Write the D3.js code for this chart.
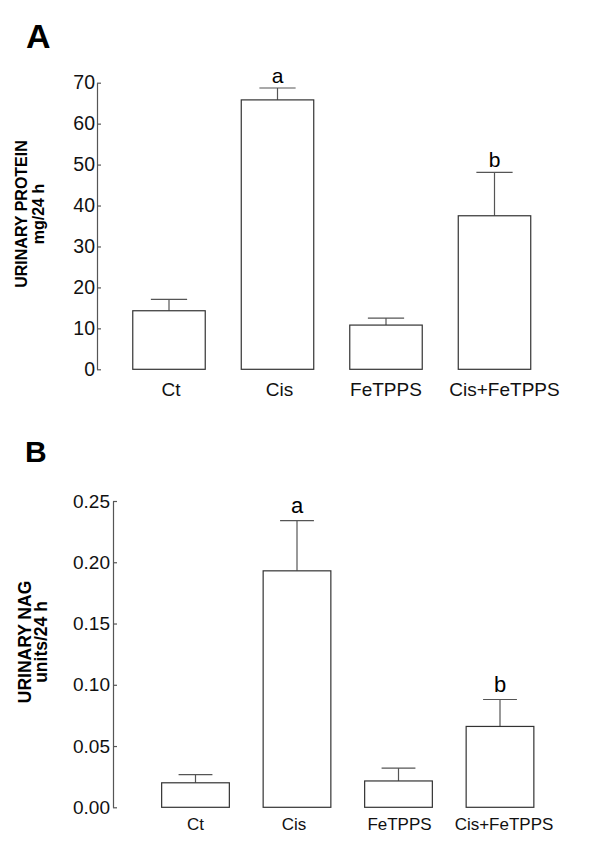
<!DOCTYPE html>
<html>
<head>
<meta charset="utf-8">
<script src="https://cdn.jsdelivr.net/npm/d3@7"></script>
<style>
  html, body { margin: 0; padding: 0; background: #fff; }
  svg { display: block; font-family: "Liberation Sans", Arial, Helvetica, sans-serif; }
</style>
</head>
<body>
<svg id="chart" width="600" height="850"></svg>
<script>
// ---- data ----
const categories = ["Ct", "Cis", "FeTPPS", "Cis+FeTPPS"];
const proteinMean = [14.3, 65.8, 10.8, 37.5];
const proteinSem  = [2.8, 2.9, 1.7, 10.6];
const proteinSig  = ["", "a", "", "b"];
const proteinTicks = [0, 10, 20, 30, 40, 50, 60, 70];

const nagMean = [0.020, 0.193, 0.0215, 0.066];
const nagSem  = [0.0066, 0.041, 0.0105, 0.022];
const nagSig  = ["", "a", "", "b"];
const nagTicks = [0, 0.05, 0.10, 0.15, 0.20, 0.25];

const svg = d3.select("#chart");

function panel(cfg) {
  const g = svg.append("g");
  const x = d3.scaleBand().domain(categories).range(cfg.xRange)
    .paddingInner(cfg.padIn).paddingOuter(cfg.padIn / 2);
  const y = d3.scaleLinear().domain(cfg.yDomain).range(cfg.yRange);
  const rows = categories.map((c, i) => ({ c, m: cfg.mean[i], s: cfg.sem[i], sig: cfg.sig[i] }));

  // panel letter
  g.append("text").attr("x", cfg.letterX).attr("y", cfg.letterY)
    .attr("font-size", cfg.letterSize).attr("font-weight", "bold").attr("fill", "#000")
    .text(cfg.letter);

  // y axis
  const ax = g.append("g").attr("transform", `translate(${cfg.axisX},0)`)
    .call(d3.axisLeft(y).tickValues(cfg.ticks).tickFormat(cfg.fmt)
      .tickSizeInner(-4).tickSizeOuter(0).tickPadding(cfg.tickPad));
  ax.select(".domain").attr("stroke", "#555").attr("stroke-width", 1.2);
  ax.selectAll(".tick line").attr("stroke", "#555").attr("stroke-width", 1.2);
  ax.selectAll(".tick text").attr("font-size", cfg.tickSize).attr("fill", "#111")
    .attr("font-family", "'Liberation Sans', Arial, sans-serif");

  // y title
  const tg = g.append("g");
  tg.append("text").attr("transform", `translate(${cfg.t1x},${cfg.tcy}) rotate(-90)`)
    .attr("text-anchor", "middle").attr("font-size", cfg.titleSize).attr("font-weight", "bold")
    .text(cfg.title1);
  tg.append("text").attr("transform", `translate(${cfg.t2x},${cfg.tcy}) rotate(-90)`)
    .attr("text-anchor", "middle").attr("font-size", cfg.titleSize).attr("font-weight", "bold")
    .text(cfg.title2);

  // error bars
  const eb = g.selectAll(".eb").data(rows).enter().append("g");
  eb.append("line")
    .attr("x1", d => x(d.c) + x.bandwidth() / 2).attr("x2", d => x(d.c) + x.bandwidth() / 2)
    .attr("y1", d => y(d.m)).attr("y2", d => y(d.m + d.s))
    .attr("stroke", "#555").attr("stroke-width", 1.2);
  eb.append("line")
    .attr("x1", d => x(d.c) + x.bandwidth() / 4).attr("x2", d => x(d.c) + x.bandwidth() * 3 / 4)
    .attr("y1", d => y(d.m + d.s)).attr("y2", d => y(d.m + d.s))
    .attr("stroke", "#555").attr("stroke-width", 1.2);

  // bars
  g.selectAll(".bar").data(rows).enter().append("rect")
    .attr("x", d => x(d.c)).attr("width", x.bandwidth())
    .attr("y", d => y(d.m)).attr("height", d => y(0) - y(d.m))
    .attr("fill", "#fff").attr("stroke", "#333").attr("stroke-width", 1.2);

  // significance letters
  g.selectAll(".sig").data(rows.filter(d => d.sig)).enter().append("text")
    .attr("x", d => x(d.c) + x.bandwidth() / 2)
    .attr("y", d => y(d.m + d.s) - cfg.sigGap)
    .attr("text-anchor", "middle").attr("font-size", cfg.sigSize).attr("fill", "#000")
    .text(d => d.sig);

  // category labels
  g.selectAll(".cat").data(categories).enter().append("text")
    .attr("x", (d, i) => x(d) + x.bandwidth() / 2 + cfg.catDx[i]).attr("y", cfg.catY)
    .attr("text-anchor", "middle").attr("font-size", cfg.catSize).attr("fill", "#111")
    .text(d => d);
}

panel({
  letter: "A", letterX: 26, letterY: 48, letterSize: 34,
  mean: proteinMean, sem: proteinSem, sig: proteinSig, ticks: proteinTicks,
  fmt: d3.format("d"),
  xRange: [114.75, 548.75], padIn: 0.332,
  yDomain: [0, 70], yRange: [369.3, 82.7],
  axisX: 97, tickPad: 2, tickSize: 19.5,
  title1: "URINARY PROTEIN", title2: "mg/24 h", t1x: 27, t2x: 44, tcy: 214, titleSize: 16,
  sigGap: 5, sigSize: 21, catY: 396, catSize: 19, catDx: [2, 2, 0, 10]
});

panel({
  letter: "B", letterX: 25, letterY: 462, letterSize: 30,
  mean: nagMean, sem: nagSem, sig: nagSig, ticks: nagTicks,
  fmt: d3.format(".2f"),
  xRange: [144.75, 550.75], padIn: 0.333,
  yDomain: [0, 0.25], yRange: [807.3, 501],
  axisX: 113, tickPad: 3, tickSize: 19,
  title1: "URINARY NAG", title2: "units/24 h", t1x: 30.5, t2x: 47, tcy: 642, titleSize: 17.5,
  sigGap: 7.5, sigSize: 22, catY: 830, catSize: 17, catDx: [0, -3, 1, 4]
});
</script>
</body>
</html>
